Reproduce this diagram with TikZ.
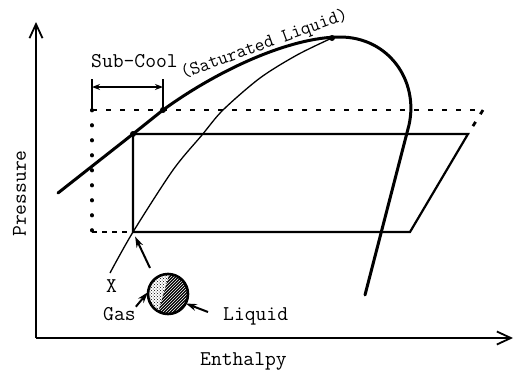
\documentclass[tikz,border=0pt]{standalone}
\usepackage{fontspec}
\usetikzlibrary{arrows.meta, patterns}
\tikzset{
  axis/.style={line width=1.8pt, -{Straight Barb[length=14pt, width=13pt, line width=1.8pt]}},
  dome/.style={line width=3pt, line cap=round, line join=round},
  quality/.style={line width=1.3pt},
  loopline/.style={line width=2.2pt, line join=miter},
  dashline/.style={line width=2.8pt, dash pattern=on 5pt off 9pt},
  dotline/.style={line width=3.6pt, line cap=round, dash pattern=on 0.6pt off 14.4pt},
  bar/.style={line width=2.8pt},
  dimline/.style={line width=1.8pt, {Stealth[length=8pt, width=6pt]}-{Stealth[length=8pt, width=6pt]}},
  pointer/.style={line width=2pt, -{Stealth[length=11pt, width=7pt]}},
  dot/.style={circle, fill, inner sep=0pt, minimum size=6pt},
  lbl/.style={font=\fontsize{21}{24}\selectfont\ttfamily, inner sep=0pt},
  smalllbl/.style={font=\fontsize{19}{21}\selectfont\ttfamily, inner sep=0pt}
}

\begin{document}
\begin{tikzpicture}[x=1pt, y=-1pt]
  \useasboundingbox (0,0) rectangle (515,373);

  % axes
  \coordinate (o) at (36,338);
  \coordinate (ytip) at (36,22);
  \coordinate (xtip) at (513,338);
  \draw[axis] (o) -- (ytip);
  \draw[axis] (o) -- (xtip);
  \node[lbl, anchor=base west, rotate=90] (press) at (26,237) {Pressure};
  \node[lbl, anchor=base west] (enth) at (200,365) {Enthalpy};

  % cycle corners
  \coordinate (a) at (133,232);
  \coordinate (b) at (133,134);
  \coordinate (c) at (468,134);
  \coordinate (d) at (410,232);
  \coordinate (e) at (92,110);
  \coordinate (f) at (163,110);
  \coordinate (g) at (483,110);
  \coordinate (h) at (92,232);
  \coordinate (crit) at (332,38);
  \coordinate (top) at (340,37);

  % dome
  \draw[dome] (58,193) -- (b) -- (f) .. controls (218,70) and (290,37) .. (top)
    .. controls (388,37) and (419,80) .. (409,125) -- (365,295);

  % thin line
  \coordinate (xend) at (110,273);
  \draw[quality] plot[smooth, tension=0.5] coordinates {(xend) (a) (173,170) (202,135)
    (223,110) (260,78) (297,55) (crit)};

  % dotted cycle
  \draw[dashline] (e) -- (g);
  \draw[dashline] (g) -- (c);
  \draw[dotline] (e) -- (h);
  \draw[dashline, dash pattern=on 5pt off 5pt] (h) -- (a);

  % solid cycle
  \draw[loopline] (b) -- (c) -- (d) -- (a) -- cycle;

  % dots
  \node[dot] (p1) at (b) {};
  \node[dot] (p2) at (f) {};
  \node[dot] (p3) at (crit) {};

  % sub-cool
  \coordinate (s1) at (92,79);
  \coordinate (s2) at (163,79);
  \coordinate (d1) at (92,87);
  \coordinate (d2) at (163,87);
  \draw[bar] (s1) -- (e);
  \draw[bar] (s2) -- (f);
  \draw[dimline] (d1) -- (d2);
  \node[lbl, anchor=base west] (sub) at (91,67) {Sub-Cool};
  \node[smalllbl, anchor=base west, rotate=20] (sat) at (183,79) {(Saturated Liquid)};

  % droplet
  \node[circle, minimum size=40pt, inner sep=0pt, fill=black] (drop) at (168,294) {};
  \begin{scope}
    \clip (drop.center) circle (20pt);
    \fill[pattern=north east lines, pattern color=white] (drop.center) circle (20pt);
    \fill[white] (170,271) -- (157,316) -- (140,316) -- (140,271) -- cycle;
    \fill[pattern=crosshatch dots] (170,271) -- (157,316) -- (140,316) -- (140,271) -- cycle;
  \end{scope}
  \draw[line width=2.6pt] (drop.center) circle (20pt);

  % labels and pointers
  \node[lbl, anchor=base west] (xlbl) at (106,292) {X};
  \node[lbl, anchor=base west] (gas) at (103,320) {Gas};
  \node[lbl, anchor=base west] (liq) at (223,320) {Liquid};
  \coordinate (xtail) at (150,268);
  \coordinate (liqtail) at (208,312);
  \draw[pointer, shorten >=5pt] (xtail) -- (a);
  \draw[pointer] (gas.north east) -- (drop.175);
  \draw[pointer] (liqtail) -- (drop.-28);
\end{tikzpicture}
\end{document}
